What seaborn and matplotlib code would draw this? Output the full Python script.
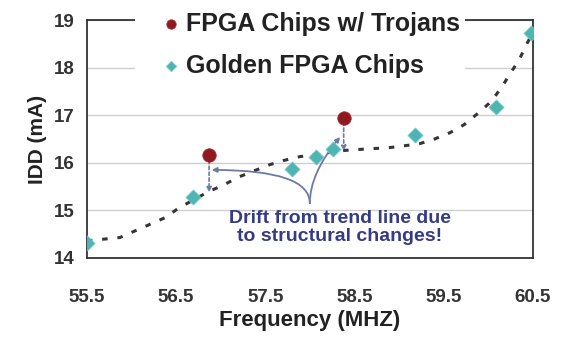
import seaborn as sns
import numpy as np
import pandas as pd
import matplotlib.pyplot as plt
from matplotlib.patches import Rectangle

# values
golden_freq = [55.5, 56.69, 57.80, 58.07, 58.26, 59.18, 60.09, 60.48]
golden_idd = [14.31, 15.29, 15.87, 16.13, 16.29, 16.59, 17.18, 18.72]
trojan_freq = [56.87, 58.38]
trojan_idd = [16.16, 16.94]
trend_freq = [55.5, 55.87, 56.04, 56.38, 56.53, 56.87, 57.03, 57.2, 57.55, 57.71, 57.89,
              58.39, 58.55, 58.73, 58.9, 59.07, 59.23, 59.4, 59.57, 59.73, 59.88,
              60.03, 60.15, 60.25, 60.35, 60.44, 60.5]
trend_idd = [14.36, 14.43, 14.57, 14.85, 15.05, 15.4, 15.53, 15.7, 15.96, 16.05, 16.13,
             16.26, 16.28, 16.3, 16.32, 16.36, 16.4, 16.5, 16.63, 16.8, 17.03,
             17.28, 17.58, 17.88, 18.17, 18.52, 18.72]
x_ticks = [55.5, 56.5, 57.5, 58.5, 59.5, 60.5]
y_ticks = [14, 15, 16, 17, 18, 19]

sns.set_style("white")
plt.rcParams['font.family'] = ['Liberation Sans', 'DejaVu Sans']

fig = plt.figure(figsize=(5.61, 3.39), dpi=100)
ax = fig.add_axes([0.155, 0.239, 0.7945, 0.702])

trend = pd.DataFrame({'f': trend_freq, 'i': trend_idd})
sns.lineplot(data=trend, x='f', y='i', ax=ax, color='#353535', lw=2.2,
             dashes=False, sort=False, zorder=2)
ax.lines[-1].set_dashes([1.8, 3.2])

sns.scatterplot(x=trojan_freq, y=trojan_idd, ax=ax, color='#8e1a1f', marker='o',
                s=95, edgecolor='#b03030', linewidth=0.5, zorder=4,
                label='FPGA Chips w/ Trojans')
sns.scatterplot(x=golden_freq, y=golden_idd, ax=ax, color='#4fb5b2', marker='D',
                s=60, edgecolor='#7fcfcc', linewidth=0.5, zorder=4,
                label='Golden FPGA Chips')

# drift arrows
arr = '#6c7aa6'
for xf, yt, yb in [(56.87, 16.05, 15.38), (58.38, 16.85, 16.25)]:
    ax.annotate('', xy=(xf, yb), xytext=(xf, yt),
                arrowprops=dict(arrowstyle='-|>', color=arr, lw=1.2, ls=(0, (2, 1.5)),
                                mutation_scale=7, shrinkA=0, shrinkB=0))
ax.annotate('', xy=(56.9, 15.85), xytext=(58.0, 15.15),
            arrowprops=dict(arrowstyle='-|>', color=arr, lw=1.3, mutation_scale=7,
                            connectionstyle='angle3,angleA=90,angleB=0',
                            shrinkA=0, shrinkB=0))
ax.annotate('', xy=(58.34, 16.54), xytext=(58.0, 15.15),
            arrowprops=dict(arrowstyle='-|>', color=arr, lw=1.3, mutation_scale=7,
                            connectionstyle='angle3,angleA=90,angleB=50',
                            shrinkA=0, shrinkB=0))
ax.text(58.34, 14.64, 'Drift from trend line due\nto structural changes!', ha='center',
        va='center', color='#353b85', fontsize=14, fontweight='bold', linespacing=1.05)

ax.set_xlim(55.5, 60.5)
ax.set_ylim(14, 19)
ax.set_xticks(x_ticks)
ax.set_yticks(y_ticks)
ax.set_xticklabels([f'{v:.1f}' for v in x_ticks])
ax.grid(axis='y', color='#cfcfcf', lw=1)
ax.tick_params(axis='x', direction='in', length=4, color='#888888', pad=22,
               labelsize=13.5, labelcolor='#333333')
ax.tick_params(axis='y', direction='out', length=6, color='#bbbbbb', pad=3,
               labelsize=13.5, labelcolor='#333333')
for lab in ax.get_xticklabels() + ax.get_yticklabels():
    lab.set_fontweight('bold')
for sp in ax.spines.values():
    sp.set_color('#333333')
    sp.set_linewidth(1.3)

ax.set_xlabel('Frequency (MHZ)', fontsize=16, fontweight='bold', color='#222222', labelpad=3)
ax.set_ylabel('IDD (mA)', fontsize=15, fontweight='bold', color='#222222', labelpad=5)

# white box behind the legend, hiding the top spine and upper grid lines
ax.add_patch(Rectangle((0.108, 0.73), 0.74, 0.33, transform=ax.transAxes,
                       facecolor='white', edgecolor='none', clip_on=False, zorder=2.6))
leg = ax.legend(loc='center', bbox_to_anchor=(0.50, 0.895), frameon=False, fontsize=18,
                handletextpad=0.15, borderpad=0.25, labelspacing=0.72, handlelength=0.9,
                markerscale=0.7)
leg.set_zorder(5)
for t in leg.get_texts():
    t.set_fontweight('bold')
    t.set_color('#222222')

fig.savefig('out.png', dpi=100)
